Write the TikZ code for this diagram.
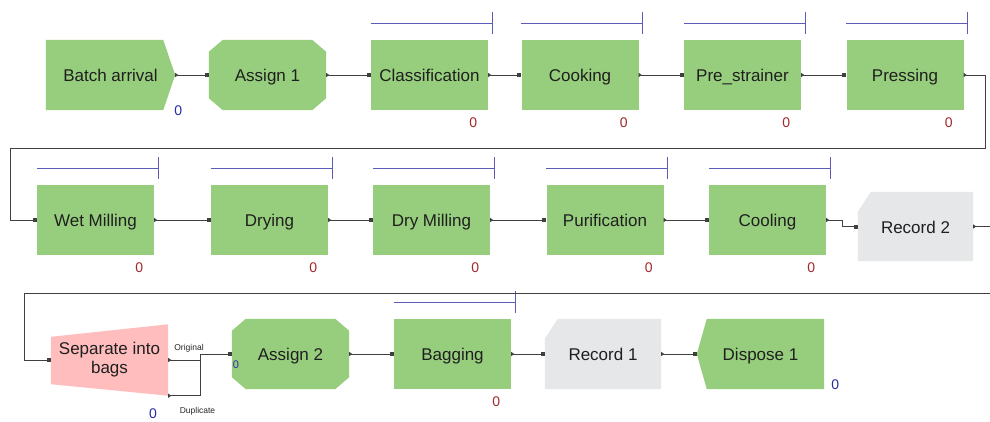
\documentclass[tikz,border=0pt]{standalone}
\usepackage{fontspec}
\setmainfont{Liberation Sans}
\usepackage{tikz}
\usetikzlibrary{arrows.meta,positioning,calc,backgrounds}
\definecolor{procgreen}{HTML}{97CE7D}
\definecolor{recgray}{HTML}{E6E7E8}
\definecolor{seppink}{HTML}{FFBDBD}
\definecolor{resblue}{HTML}{5C5CB8}
\definecolor{qred}{HTML}{A3282C}
\definecolor{cblue}{HTML}{2A2AA5}

\begin{document}
\begin{tikzpicture}[
  x=1pt,y=-1pt,
  font=\fontsize{17}{19}\selectfont,
  mod/.style={inner sep=0pt,minimum width=117pt,minimum height=70pt,align=center,text=black!88},
  blk/.style={mod,text height=16.5pt,text depth=3.5pt},
  proc/.style={blk,fill=procgreen},
  conn/.style={draw=black!75,line width=0.9pt,{Triangle[length=3pt,width=4pt,reversed]}-{Square[length=4pt,width=4pt]}},
  res/.style={draw=resblue,line width=1pt},
  qnum/.style={font=\fontsize{14}{14}\selectfont,text=qred,inner sep=0pt},
  cnum/.style={qnum,text=cblue},
  port/.style={font=\fontsize{8.5}{9}\selectfont,inner sep=0pt,text=black!85}
]
\useasboundingbox (0,0) rectangle (990,421);

% ---------------- row 1
\node[blk,minimum width=129pt] (batch) at (110.5,75) {Batch arrival};
\node[blk] (assign1) at (267.5,75) {Assign 1};
\node[proc] (classif) at (429.5,75) {Classification};
\node[proc] (cooking) at (580,75) {Cooking};
\node[proc] (prestrain) at (742.5,75) {Pre\_strainer};
\node[proc] (pressing) at (905,75) {Pressing};

% ---------------- row 2
\node[proc] (wetmill) at (95.5,220) {Wet Milling};
\node[proc] (drying) at (269.5,220) {Drying};
\node[proc] (drymill) at (431.5,220) {Dry Milling};
\node[proc] (purif) at (605,220) {Purification};
\node[proc] (cooling) at (767.5,220) {Cooling};
\node[blk,minimum width=115pt,minimum height=69pt] (record2) at (915.5,226.5) {Record 2};

% ---------------- row 3
\node[mod,minimum height=71pt] (separate) at (109.5,360) {\raisebox{-2pt}{Separate into}\\\raisebox{-2pt}{bags}};
\node[blk] (assign2) at (290.5,354) {Assign 2};
\node[proc] (bagging) at (452.5,354) {Bagging};
\node[blk,minimum width=116pt] (record1) at (603,354) {Record 1};
\node[blk,minimum width=127pt] (dispose) at (760.5,354) {Dispose 1};

% ---------------- resources and counters
\foreach \n in {classif,cooking,prestrain,pressing,wetmill,drying,drymill,purif,cooling,bagging} {
  \draw[res] ($(\n.north west)+(0,-16)$) -- ($(\n.north east)+(4,-16)$);
  \draw[res] ($(\n.north east)+(4,-28)$) -- ($(\n.north east)+(4,-6)$);
  \node[qnum] at ($(\n.south east)+(-15,12)$) {0};
}
\node[cnum] (cbatch) at ($(batch.south east)+(3,0)$) {0};
\node[cnum] (cdispose) at ($(dispose.south east)+(11,-5)$) {0};
\node[cnum] (csep) at (153,414) {0};
\node[cnum,font=\fontsize{11}{11}\selectfont] (cassign) at (236,365) {0};
\node[port] (lorig) at (189,348) {Original};
\node[port] (ldup) at (197.5,411) {Duplicate};

% ---------------- connectors
\foreach \a/\b in {batch/assign1,assign1/classif,classif/cooking,cooking/prestrain,prestrain/pressing,
  wetmill/drying,drying/drymill,drymill/purif,purif/cooling,assign2/bagging,bagging/record1,record1/dispose}
  \draw[conn] (\a.east) -- (\b.west);
\draw[conn] (pressing.east) -| (985,148) -| (10,220) -- (wetmill.west);
\draw[conn] (cooling.east) -- ++(16,0) |- (record2.west);
\draw[conn] (record2.east) -| (994,293) -| (24,360) -- (separate.west);
\draw[conn] (separate.east) -- ++(32,0) |- (assign2.west);
\draw[conn] (separate.south east) -- ++(32,0) |- (assign2.west);

% ---------------- module shapes
\begin{scope}[on background layer]
  \fill[white] (0,0) rectangle (990,421);
  \fill[procgreen] (batch.north west) -- ($(batch.north east)+(-12,0)$) -- (batch.east)
    -- ($(batch.south east)+(-12,0)$) -- (batch.south west) -- cycle;
  \foreach \n in {assign1,assign2}
    \fill[procgreen] ($(\n.north west)+(14,0)$) -- ($(\n.north east)+(-14,0)$) -- ($(\n.north east)+(0,12)$)
      -- ($(\n.south east)+(0,-12)$) -- ($(\n.south east)+(-14,0)$) -- ($(\n.south west)+(14,0)$)
      -- ($(\n.south west)+(0,-12)$) -- ($(\n.north west)+(0,12)$) -- cycle;
  \foreach \n in {record1,record2}
    \fill[recgray] ($(\n.north west)+(13,0)$) -- (\n.north east) -- (\n.south east) -- (\n.south west)
      -- ($(\n.north west)+(0,20)$) -- cycle;
  \fill[procgreen] (dispose.west) -- ($(dispose.north west)+(10,0)$) -- (dispose.north east)
    -- (dispose.south east) -- ($(dispose.south west)+(10,0)$) -- cycle;
  \fill[seppink] (separate.north east) -- (separate.south east) -- ($(separate.south west)+(0,-11.5)$)
    -- ($(separate.north west)+(0,12.5)$) -- cycle;
\end{scope}
\end{tikzpicture}
\end{document}
